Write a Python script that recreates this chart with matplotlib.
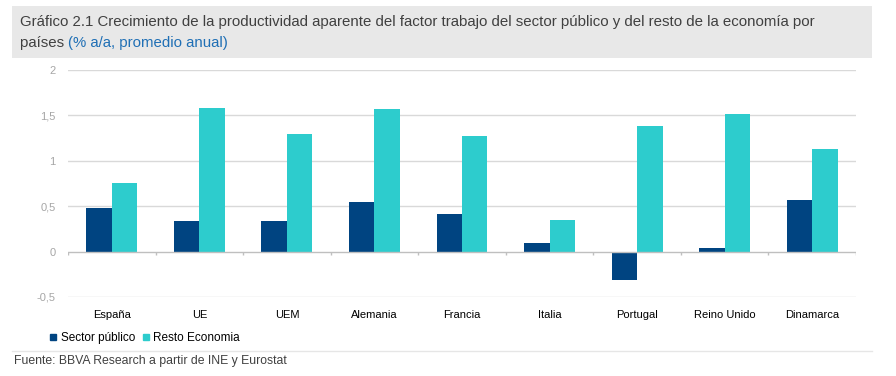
import numpy as np
import matplotlib
matplotlib.use('Agg')
import matplotlib.pyplot as plt
from matplotlib.patches import Rectangle
from matplotlib.lines import Line2D

plt.rcParams['font.family'] = ['Liberation Sans', 'DejaVu Sans']

paises = ['España', 'UE', 'UEM', 'Alemania', 'Francia', 'Italia',
          'Portugal', 'Reino Unido', 'Dinamarca']
sector_publico = [0.48, 0.34, 0.34, 0.55, 0.41, 0.09, -0.31, 0.04, 0.57]
resto_economia = [0.76, 1.58, 1.30, 1.57, 1.27, 0.35, 1.38, 1.52, 1.13]
yticks = [-0.5, 0, 0.5, 1, 1.5, 2]
ytick_labels = ['-0,5', '0', '0,5', '1', '1,5', '2']

navy = '#004481'
aqua = '#2dcccd'
grid = '#d9d9d9'

fig = plt.figure(figsize=(8.96, 3.76), dpi=100)

# title box
fig.patches.append(Rectangle((12/896, 1-58/376), 860/896, 52/376,
                             transform=fig.transFigure, facecolor='#e8e8e8',
                             edgecolor='none', zorder=0))
fig.text(20/896, 1-22/376, 'Gráfico 2.1 Crecimiento de la productividad aparente del factor trabajo '
         'del sector público y del resto de la economía por',
         fontsize=10.8, color='#404040', va='center')
t = fig.text(20/896, 1-43/376, 'países ', fontsize=10.8, color='#404040', va='center')
fig.canvas.draw()
bb = t.get_window_extent()
fig.text(bb.x1/896, 1-43/376, '(% a/a, promedio anual)', fontsize=10.8,
         color='#1f6fb5', va='center')

ax = fig.add_axes([68/896, 1-297/376, 788/896, 227/376])
x = np.arange(len(paises))
w = 0.29
ax.bar(x - w/2, sector_publico, w, color=navy, label='Sector público', zorder=3)
ax.bar(x + w/2, resto_economia, w, color=aqua, label='Resto Economia', zorder=3)

ax.set_xlim(-0.5, len(paises) - 0.5)
ax.set_ylim(-0.5, 2)
ax.set_yticks(yticks)
ax.set_yticklabels(ytick_labels)
for yv in yticks:
    if yv != 0:
        ax.axhline(yv, color=grid, linewidth=1, zorder=1)
ax.axhline(0, color='#bfbfbf', linewidth=1, zorder=4)
bounds = np.arange(len(paises) + 1) - 0.5
ax.vlines(bounds, -0.04, 0, color='#bfbfbf', linewidth=1, zorder=4)

for s in ax.spines.values():
    s.set_visible(False)
ax.set_xticks(x)
ax.set_xticklabels(paises)
ax.tick_params(axis='x', length=0, labelsize=8, colors='black', pad=9)
ax.tick_params(axis='y', length=0, labelsize=8, labelcolor='#a6a6a6', pad=9)

handles = [Line2D([], [], marker='s', linestyle='none', color=navy, markersize=5),
           Line2D([], [], marker='s', linestyle='none', color=aqua, markersize=5)]
fig.legend(handles, ['Sector público', 'Resto Economia'], loc='center left',
           bbox_to_anchor=(44/896, 1-338/376), ncol=2, frameon=False, fontsize=8.5,
           handlelength=0.6, handletextpad=0.3, columnspacing=0.6, borderpad=0)

fig.add_artist(Line2D([12/896, 872/896], [1-351/376, 1-351/376],
                      transform=fig.transFigure, color='#e6e6e6', linewidth=1))
fig.text(14/896, 1-361/376, 'Fuente: BBVA Research a partir de INE y Eurostat',
         fontsize=8.8, color='#404040', va='center')

fig.savefig('out.png', dpi=100)
